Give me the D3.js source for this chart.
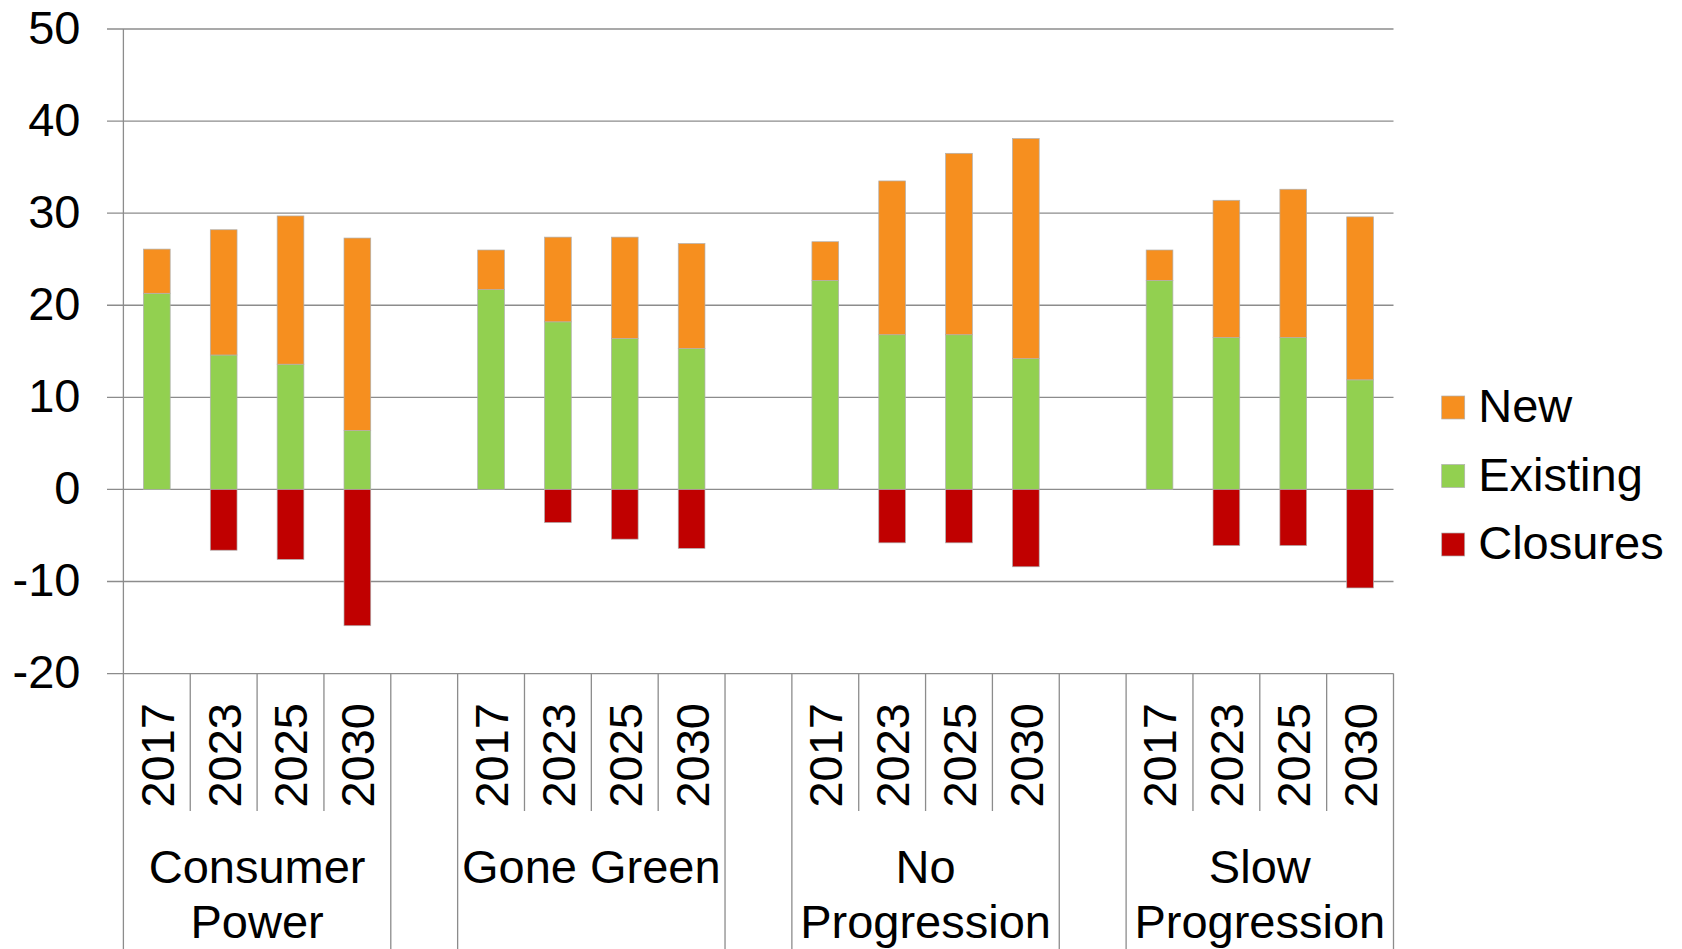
<!DOCTYPE html>
<html>
<head>
<meta charset="utf-8">
<script src="https://cdn.jsdelivr.net/npm/d3@7/dist/d3.min.js"></script>
<style>
  html, body { margin: 0; padding: 0; background: #ffffff; }
  svg { display: block; font-family: "Liberation Sans", Arial, sans-serif; }
</style>
</head>
<body>
<svg id="chart" width="1682" height="949"></svg>
<script>
// Scenario groups and the years shown within each
const groups = ["Consumer Power", "Gone Green", "No Progression", "Slow Progression"];
const groupLines = [["Consumer", "Power"], ["Gone Green"], ["No", "Progression"], ["Slow", "Progression"]];
const years = ["2017", "2023", "2025", "2030"];

// Values per group, in year order (GW)
const existing = [
  21.3, 14.6, 13.6, 6.4,
  21.7, 18.2, 16.4, 15.3,
  22.7, 16.8, 16.8, 14.2,
  22.7, 16.5, 16.5, 11.9
];
const newBuild = [
  4.8, 13.6, 16.1, 20.9,
  4.3, 9.2, 11.0, 11.4,
  4.2, 16.7, 19.7, 23.9,
  3.3, 14.9, 16.1, 17.7
];
const closures = [
  0, -6.6, -7.6, -14.8,
  0, -3.6, -5.4, -6.4,
  0, -5.8, -5.8, -8.4,
  0, -6.1, -6.1, -10.7
];

const yTicks = [-20, -10, 0, 10, 20, 30, 40, 50];
const seriesNames = ["New", "Existing", "Closures"];
const colors = { New: "#F68F1F", Existing: "#92D050", Closures: "#C00000" };

const svg = d3.select("#chart");
const gridColor = "#8c8c8c";
const fontSize = 47;

// Category slots: four years per group, with an empty slot between groups
const slots = [];
groups.forEach((g, gi) => {
  years.forEach(y => slots.push(g + "|" + y));
  if (gi < groups.length - 1) slots.push("gap" + gi);
});

const x = d3.scaleBand().domain(slots).range([123.4, 1393.5]).padding(0);
const y = d3.scaleLinear().domain([-20, 50]).range([673.6, 29]);
const barW = x.bandwidth() * 0.4;

// Horizontal gridlines with short outward ticks
svg.append("g")
  .selectAll("line")
  .data(yTicks)
  .join("line")
  .attr("x1", 107).attr("x2", 1393.5)
  .attr("y1", d => y(d)).attr("y2", d => y(d))
  .attr("stroke", gridColor).attr("stroke-width", 1.3);

// Value axis labels
svg.append("g")
  .selectAll("text")
  .data(yTicks)
  .join("text")
  .attr("x", 80.5)
  .attr("y", d => y(d))
  .attr("dy", "0.31em")
  .attr("text-anchor", "end")
  .attr("font-size", fontSize)
  .attr("fill", "#000")
  .text(d => d);

// Vertical value axis line, running down through the category area
svg.append("line")
  .attr("x1", 123.4).attr("x2", 123.4)
  .attr("y1", y(50)).attr("y2", 949)
  .attr("stroke", gridColor).attr("stroke-width", 1.3);

// Category separators: short between years, long at group edges
const boundaries = d3.range(slots.length + 1).map(i => {
  const xPos = i < slots.length ? x(slots[i]) : x.range()[1];
  const before = i > 0 ? slots[i - 1] : null;
  const after = i < slots.length ? slots[i] : null;
  const long = !before || !after || before.startsWith("gap") || after.startsWith("gap");
  return { x: xPos, long };
}).filter((d, i) => i > 0);

svg.append("g")
  .selectAll("line")
  .data(boundaries)
  .join("line")
  .attr("x1", d => d.x).attr("x2", d => d.x)
  .attr("y1", y(-20))
  .attr("y2", d => d.long ? 949 : 811)
  .attr("stroke", gridColor).attr("stroke-width", 1.3);

// Stacked bar records
const records = [];
groups.forEach((g, gi) => {
  years.forEach((yr, yi) => {
    const i = gi * years.length + yi;
    const key = g + "|" + yr;
    records.push({ key, series: "Existing", y0: 0, y1: existing[i] });
    records.push({ key, series: "New", y0: existing[i], y1: existing[i] + newBuild[i] });
    if (closures[i] !== 0) records.push({ key, series: "Closures", y0: closures[i], y1: 0 });
  });
});

svg.append("g")
  .selectAll("rect")
  .data(records)
  .join("rect")
  .attr("x", d => x(d.key) + (x.bandwidth() - barW) / 2)
  .attr("width", barW)
  .attr("y", d => y(Math.max(d.y0, d.y1)))
  .attr("height", d => Math.abs(y(d.y0) - y(d.y1)))
  .attr("fill", d => colors[d.series])
  .attr("stroke", "#b0b0b0")
  .attr("stroke-width", 0.7);

// Rotated year labels
const yearLabels = [];
groups.forEach(g => years.forEach(yr => yearLabels.push({ key: g + "|" + yr, yr })));
svg.append("g")
  .selectAll("text")
  .data(yearLabels)
  .join("text")
  .attr("transform", d => `translate(${x(d.key) + x.bandwidth() / 2},703) rotate(-90)`)
  .attr("dy", "0.36em")
  .attr("text-anchor", "end")
  .attr("font-size", fontSize)
  .attr("fill", "#000")
  .text(d => d.yr);

// Group labels, centred over their four years
svg.append("g")
  .selectAll("text")
  .data(groups.map((g, gi) => ({ g, lines: groupLines[gi] })))
  .join("text")
  .attr("text-anchor", "middle")
  .attr("font-size", fontSize)
  .attr("fill", "#000")
  .each(function (d) {
    const cx = (x(d.g + "|" + years[0]) + x(d.g + "|" + years[3]) + x.bandwidth()) / 2;
    d3.select(this).selectAll("tspan")
      .data(d.lines)
      .join("tspan")
      .attr("x", cx)
      .attr("y", (l, li) => 883 + li * 55)
      .text(l => l);
  });

// Legend
const legend = svg.append("g")
  .selectAll("g")
  .data(seriesNames)
  .join("g")
  .attr("transform", (d, i) => `translate(1441.7,${396 + i * 68.5})`);
legend.append("rect")
  .attr("width", 23).attr("height", 23)
  .attr("fill", d => colors[d])
  .attr("stroke", "#b0b0b0").attr("stroke-width", 0.7);
legend.append("text")
  .attr("x", 36.5)
  .attr("y", 11.5)
  .attr("dy", "0.31em")
  .attr("font-size", fontSize)
  .attr("fill", "#000")
  .text(d => d);
</script>
</body>
</html>
